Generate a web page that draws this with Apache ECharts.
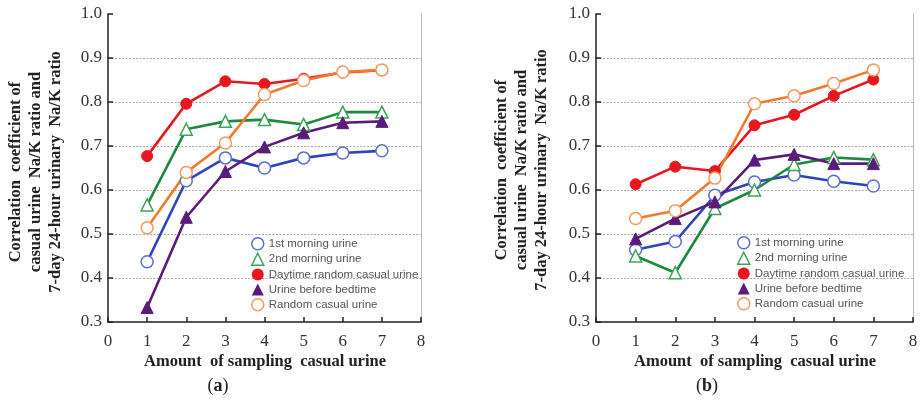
<!DOCTYPE html>
<html>
<head>
<meta charset="utf-8">
<script src="https://cdn.jsdelivr.net/npm/echarts@6/dist/echarts.min.js"></script>
<style>
  html, body { margin: 0; padding: 0; background: #fff; }
  #chart { width: 921px; height: 400px; }
</style>
</head>
<body>
<div id="chart"></div>
<script>
// Number of casual urine samples (x positions)
const samples = [1, 2, 3, 4, 5, 6, 7];
const seriesNames = [
  '1st morning urine',
  '2nd morning urine',
  'Daytime random casual urine',
  'Urine before bedtime',
  'Random casual urine'
];

// Panel (a) correlation coefficients
const a_firstMorning = [0.437, 0.621, 0.673, 0.650, 0.673, 0.684, 0.689];
const a_secondMorning = [0.566, 0.738, 0.756, 0.760, 0.749, 0.777, 0.777];
const a_daytime = [0.677, 0.796, 0.847, 0.841, 0.853, 0.867, 0.872];
const a_bedtime = [0.333, 0.538, 0.642, 0.698, 0.730, 0.753, 0.756];
const a_random = [0.514, 0.640, 0.707, 0.817, 0.849, 0.868, 0.873];

// Panel (b) correlation coefficients
const b_firstMorning = [0.464, 0.483, 0.588, 0.618, 0.634, 0.620, 0.609];
const b_secondMorning = [0.450, 0.412, 0.558, 0.600, 0.658, 0.674, 0.669];
const b_daytime = [0.613, 0.653, 0.643, 0.747, 0.771, 0.814, 0.851];
const b_bedtime = [0.489, 0.535, 0.573, 0.668, 0.681, 0.660, 0.660];
const b_random = [0.535, 0.553, 0.627, 0.796, 0.814, 0.842, 0.873];

const yTicks = [0.3, 0.4, 0.5, 0.6, 0.7, 0.8, 0.9, 1.0];
const xTicks = [0, 1, 2, 3, 4, 5, 6, 7, 8];

const styles = [
  { line: '#2d45b8', marker: '#5b6ed2', symbol: 'circle', filled: false },
  { line: '#1c8a3e', marker: '#3aa655', symbol: 'triangle', filled: false },
  { line: '#e8161f', marker: '#e8161f', symbol: 'circle', filled: true },
  { line: '#5a1b7a', marker: '#5a1b7a', symbol: 'triangle', filled: true },
  { line: '#f27a2a', marker: '#f49a5e', symbol: 'circle', filled: false }
];

const serif = '"Liberation Serif", "DejaVu Serif", serif';
const sans = '"Liberation Sans", Arial, sans-serif';

function pairs(vals) { return samples.map((x, i) => [x, vals[i]]); }

function makeSeries(panel, sets) {
  return sets.map((vals, i) => {
    const s = styles[i];
    return {
      name: seriesNames[i],
      type: 'line',
      xAxisIndex: panel,
      yAxisIndex: panel * 2,
      data: pairs(vals),
      symbol: s.symbol,
      symbolSize: s.symbol === 'triangle' ? 12 : (s.filled ? 11 : 12),
      lineStyle: { color: s.line, width: 2.6 },
      itemStyle: s.filled
        ? { color: s.marker, borderColor: s.marker, borderWidth: 1 }
        : { color: '#fff', borderColor: s.marker, borderWidth: 1.5 },
      emphasis: { disabled: true },
      animation: false
    };
  });
}

function legendFor(left, top) {
  return {
    orient: 'vertical',
    left: left,
    top: top,
    padding: 0,
    itemWidth: 12,
    itemHeight: 12,
    itemGap: 2,
    selectedMode: false,
    textStyle: { fontFamily: sans, fontSize: 11.5, color: '#555', lineHeight: 13 },
    data: seriesNames.map((n, i) => {
      const s = styles[i];
      return {
        name: n,
        icon: s.symbol,
        itemStyle: s.filled
          ? { color: s.marker, borderWidth: 0 }
          : { color: '#fff', borderColor: s.marker, borderWidth: 1.5 }
      };
    })
  };
}

const gridLineColors = yTicks.map((v, i) => (i === 0 || i === yTicks.length - 1) ? 'rgba(0,0,0,0)' : '#aaaaaa');

function xAxisFor(panel) {
  return {
    type: 'value', gridIndex: panel,
    min: xTicks[0], max: xTicks[xTicks.length - 1], interval: 1,
    axisLine: { show: true, onZero: false, lineStyle: { color: '#222', width: 1.5 } },
    axisTick: { show: true, inside: true, length: 5, lineStyle: { color: '#222', width: 1.5 } },
    axisLabel: { fontFamily: serif, fontSize: 17, color: '#333', margin: 11 },
    splitLine: { show: false }
  };
}

function yAxesFor(panel) {
  return [{
    type: 'value', gridIndex: panel,
    min: yTicks[0], max: yTicks[yTicks.length - 1], interval: 0.1,
    axisLine: { show: true, onZero: false, lineStyle: { color: '#222', width: 1.5 } },
    axisTick: { show: true, inside: true, length: 5, lineStyle: { color: '#222', width: 1.5 } },
    axisLabel: { fontFamily: serif, fontSize: 17, color: '#333', margin: 6,
      formatter: v => v.toFixed(1) },
    splitLine: { show: true, lineStyle: { color: gridLineColors, type: [2, 1.5], width: 1 } }
  }, {
    type: 'value', gridIndex: panel, position: 'right',
    min: yTicks[0], max: yTicks[yTicks.length - 1], interval: 0.1,
    axisLine: { show: true, onZero: false, lineStyle: { color: '#bbbbbb', width: 1 } },
    axisTick: { show: false }, axisLabel: { show: false }, splitLine: { show: false }
  }];
}

function yName(x, y) {
  return {
    type: 'text', x: x, y: y, rotation: Math.PI / 2,
    style: {
      text: 'Correlation  coefficient of\ncasual urine  Na/K ratio and\n7-day 24-hour urinary  Na/K ratio',
      font: 'bold 16.5px ' + serif, fill: '#222',
      textAlign: 'center', textVerticalAlign: 'middle', lineHeight: 20
    }
  };
}

function xName(x, y) {
  return {
    type: 'text', x: x, y: y,
    style: {
      text: 'Amount  of sampling  casual urine',
      font: 'bold 16.5px ' + serif, fill: '#222',
      textAlign: 'center', textVerticalAlign: 'middle'
    }
  };
}

function panelTag(x, y, letter) {
  return {
    type: 'text', x: x, y: y,
    style: {
      text: '(' + '{b|' + letter + '})',
      font: '18px ' + serif, fill: '#222',
      textAlign: 'center', textVerticalAlign: 'middle',
      rich: { b: { font: 'bold 18px ' + serif, fill: '#222' } }
    }
  };
}

const chart = echarts.init(document.getElementById('chart'), null, { renderer: 'canvas' });
chart.setOption({
  backgroundColor: '#fff',
  animation: false,
  grid: [
    { left: 108, right: 500, top: 14, bottom: 78 },
    { left: 596, right: 8, top: 14, bottom: 78 }
  ],
  xAxis: [xAxisFor(0), xAxisFor(1)],
  yAxis: [...yAxesFor(0), ...yAxesFor(1)],
  legend: [legendFor(251, 237), legendFor(737, 236)],
  series: [
    ...makeSeries(0, [a_firstMorning, a_secondMorning, a_daytime, a_bedtime, a_random]),
    ...makeSeries(1, [b_firstMorning, b_secondMorning, b_daytime, b_bedtime, b_random])
  ],
  graphic: [
    yName(36, 172), yName(522, 170),
    xName(265, 362), xName(755, 362),
    panelTag(218, 386, 'a'), panelTag(707, 386, 'b')
  ]
});
</script>
</body>
</html>
